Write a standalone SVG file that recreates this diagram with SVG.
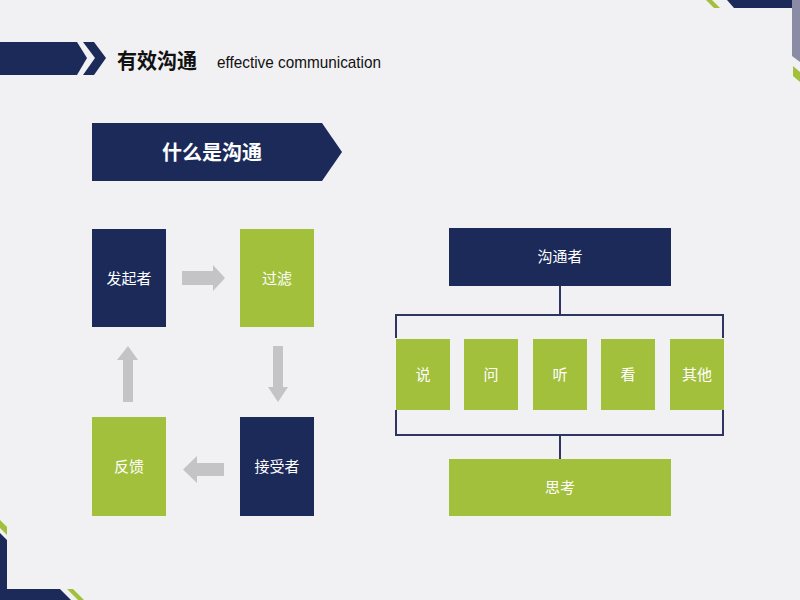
<svg xmlns="http://www.w3.org/2000/svg" width="800" height="600" viewBox="0 0 800 600">
<style>
.navy{fill:#1c2a5a}
.green{fill:#a2c03c}
.arrow{fill:#c4c4c6}
.lbl{font-family:"Noto Sans CJK SC","Noto Sans",sans-serif;font-size:15px;fill:#ffffff;text-anchor:middle;dominant-baseline:central}
.line{stroke:#2f3560;stroke-width:2;fill:none}
</style>
<rect width="800" height="600" fill="#f1f1f4"/>
<!-- corner decorations -->
<polygon points="706,0 712,0 720,8 714,8" class="green"/>
<polygon points="727,0 800,0 792,8 734,8" class="navy"/>
<polygon points="792,0 800,0 800,62 792,56" fill="#8a8ca6"/>
<polygon points="793,66 800,72 800,82 793,76" class="green"/>
<polygon points="0,520 7,527 7,535 0,528" class="green"/>
<polygon points="0,533 7,540 7,589 60,589 71,600 0,600" class="navy"/>
<polygon points="67,589 73,589 84,600 78,600" class="green"/>
<!-- title -->
<g id="title">
<polygon points="0,42 77,42 87,58 77,75 0,75" class="navy"/>
<polygon points="83,42 94,42 106,58 94,75 83,75 95,58" class="navy"/>
<text x="117" y="68" font-family="Noto Sans CJK SC,sans-serif" font-size="21" font-weight="bold" fill="#111111" textLength="80" lengthAdjust="spacingAndGlyphs">有效沟通</text>
<text x="217" y="68" font-family="Liberation Sans Narrow,Liberation Sans,sans-serif" font-size="17" fill="#111111" textLength="164" lengthAdjust="spacingAndGlyphs">effective communication</text>
</g>
<g id="banner">
<polygon points="92,123 322,123 342,152 322,181 92,181" class="navy"/>
<text x="212" y="151" class="lbl" font-weight="bold" style="font-size:20px">什么是沟通</text>
</g>
<!-- cycle -->
<g id="node-faqizhe"><rect x="92" y="229" width="74" height="98" class="navy"/><text x="129" y="277" class="lbl">发起者</text></g>
<g id="node-guolv"><rect x="240" y="229" width="74" height="98" class="green"/><text x="277" y="277" class="lbl">过滤</text></g>
<g id="node-jieshouzhe"><rect x="240" y="417" width="74" height="99" class="navy"/><text x="277" y="465" class="lbl">接受者</text></g>
<g id="node-fankui"><rect x="92" y="417" width="74" height="99" class="green"/><text x="129" y="465" class="lbl">反馈</text></g>
<g id="connectors-cycle">
<polygon points="182,271 213,271 213,265 225,278 213,291 213,285 182,285" class="arrow"/>
<polygon points="273,346 283,346 283,387 288,387 278,402 268,387 273,387" class="arrow"/>
<polygon points="224,463 197,463 197,456 183,469.5 197,483 197,476 224,476" class="arrow"/>
<polygon points="123,402 133,402 133,360 138,360 128,346 117,360 123,360" class="arrow"/>
</g>
<!-- tree -->
<g id="connectors-tree">
<path d="M560,286 V315 M396,338 V315 H723 V338 M396,410 V435 H723 V410 M560,435 V459" class="line"/>
</g>
<g id="node-goutongzhe"><rect x="449" y="228" width="222" height="58" class="navy"/><text x="560" y="255.5" class="lbl">沟通者</text></g>
<g id="node-shuo"><rect x="396" y="339" width="54" height="71" class="green"/><text x="423" y="373" class="lbl">说</text></g>
<g id="node-wen"><rect x="464" y="339" width="54" height="71" class="green"/><text x="491" y="373" class="lbl">问</text></g>
<g id="node-ting"><rect x="533" y="339" width="54" height="71" class="green"/><text x="560" y="373" class="lbl">听</text></g>
<g id="node-kan"><rect x="601" y="339" width="54" height="71" class="green"/><text x="628" y="373" class="lbl">看</text></g>
<g id="node-qita"><rect x="670" y="339" width="54" height="71" class="green"/><text x="697" y="373" class="lbl">其他</text></g>
<g id="node-sikao"><rect x="449" y="459" width="222" height="57" class="green"/><text x="560" y="486" class="lbl">思考</text></g>
</svg>
